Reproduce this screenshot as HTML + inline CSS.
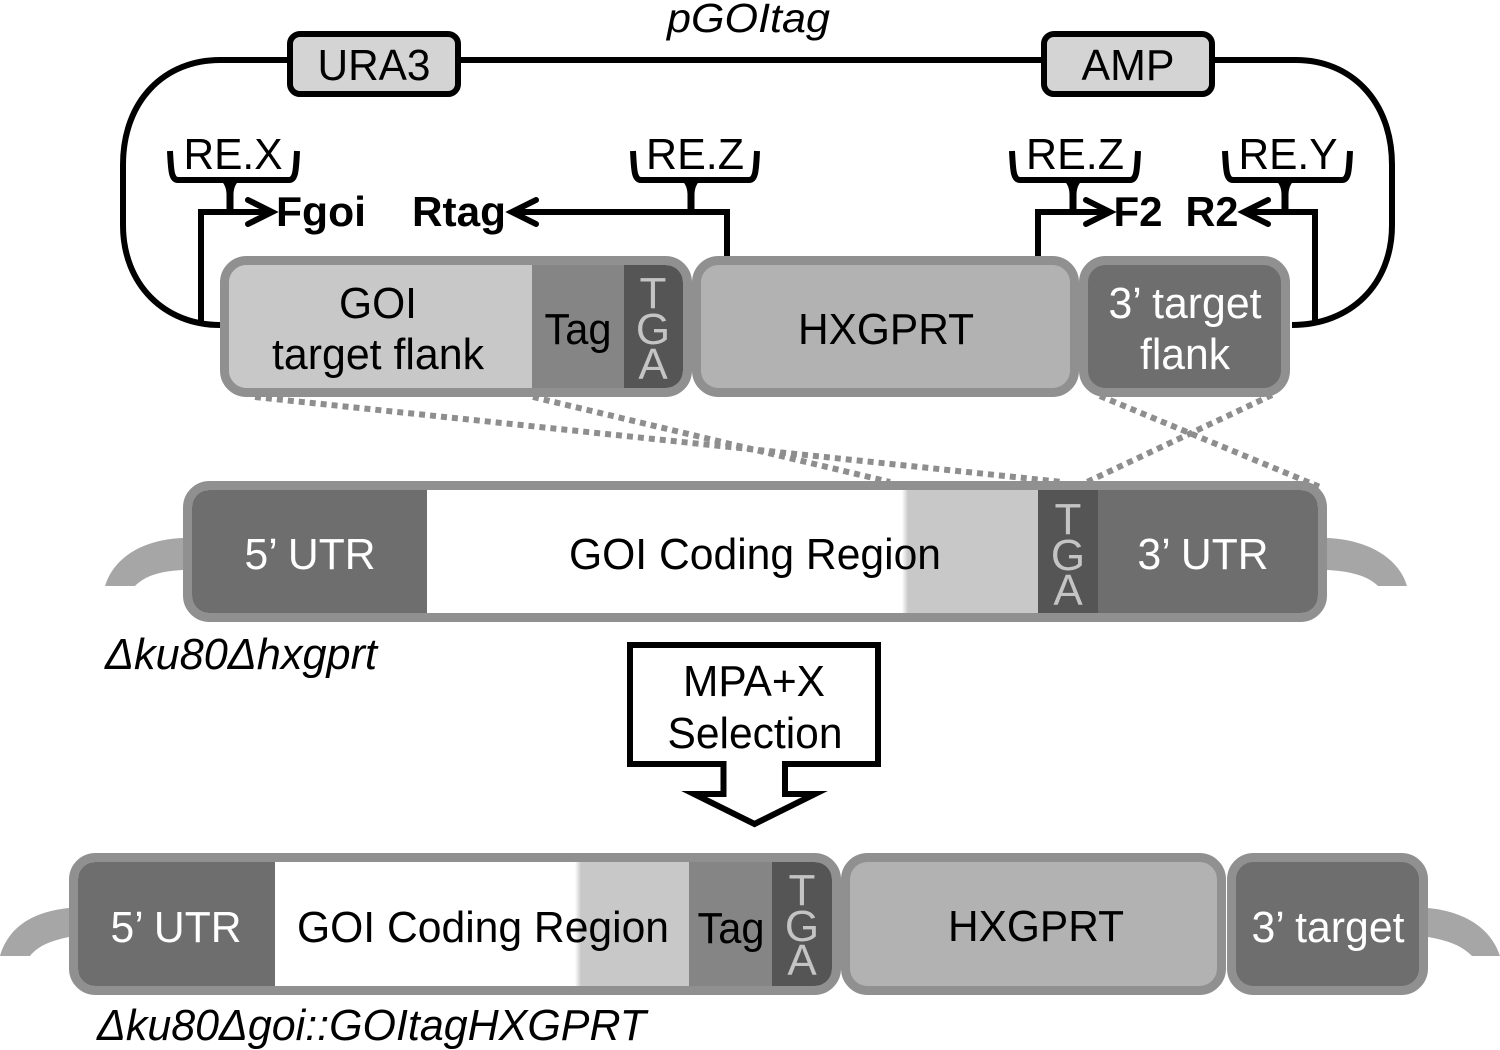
<!DOCTYPE html>
<html><head><meta charset="utf-8"><style>
html,body{margin:0;padding:0;background:#fff;width:1500px;height:1050px;overflow:hidden}
svg{display:block}
text{font-family:"Liberation Sans",sans-serif;font-size:44px;text-anchor:middle}
.b{font-weight:bold;font-size:42px}
.i{font-style:italic;text-anchor:start}
.w{fill:#fff}
.t{fill:#c4c4c4;font-size:44px}
.k{fill:none;stroke:#000;stroke-width:6}
.kb{fill:none;stroke:#000;stroke-width:6;stroke-linejoin:round}
.bd{fill:none;stroke:#909090;stroke-width:9}
.d{fill:none;stroke:#8e8e8e;stroke-width:6;stroke-dasharray:6 5}
</style></head><body>
<svg width="1500" height="1050" viewBox="0 0 1500 1050" xmlns="http://www.w3.org/2000/svg">
<defs>
<clipPath id="c1"><rect x="229" y="265" width="454" height="123" rx="17"/></clipPath>
<clipPath id="c2"><rect x="192" y="490" width="1126" height="123" rx="17"/></clipPath>
<clipPath id="c3"><rect x="78" y="862" width="754" height="124" rx="17"/></clipPath>
<linearGradient id="g1"><stop offset="0" stop-color="#fff"/><stop offset="1" stop-color="#c8c8c8"/></linearGradient>
</defs>

<!-- plasmid backbone -->
<path class="k" d="M220 60H1296C1350 60 1392 100 1392 165V225C1392 285 1350 325 1292 325"/>
<path class="k" d="M220 60C165 60 123 100 123 165V225C123 285 165 325 220 325"/>
<rect x="290" y="34" width="168" height="60" rx="10" fill="#d4d4d4" stroke="#000" stroke-width="6"/>
<rect x="1044" y="34" width="168" height="60" rx="10" fill="#d4d4d4" stroke="#000" stroke-width="6"/>
<text x="374" y="80" textLength="113" lengthAdjust="spacingAndGlyphs">URA3</text>
<text x="1128" y="80" textLength="93" lengthAdjust="spacingAndGlyphs">AMP</text>
<text class="i" x="667" y="32" style="font-size:41px" textLength="163" lengthAdjust="spacingAndGlyphs">pGOItag</text>

<!-- RE labels + brackets -->
<text x="233" y="169" textLength="99" lengthAdjust="spacingAndGlyphs">RE.X</text>
<text x="695" y="169" textLength="98" lengthAdjust="spacingAndGlyphs">RE.Z</text>
<text x="1075" y="169" textLength="98" lengthAdjust="spacingAndGlyphs">RE.Z</text>
<text x="1288" y="169" textLength="99" lengthAdjust="spacingAndGlyphs">RE.Y</text>
<path class="kb" d="M170 151C171 169 171 180 178 180H289C296 180 296 169 297 151"/>
<path d="M220 180Q227 185 226.500 197V212H233.500V197Q233 185 240 180Z"/>
<path class="kb" d="M633 151C634 169 634 180 641 180H749C756 180 756 169 757 151"/>
<path d="M681 180Q688 185 687.500 197V212H694.500V197Q694 185 701 180Z"/>
<path class="kb" d="M1012 151C1013 169 1013 180 1020 180H1130C1137 180 1137 169 1138 151"/>
<path d="M1063 180Q1070 185 1069.500 197V212H1076.500V197Q1076 185 1083 180Z"/>
<path class="kb" d="M1225 151C1226 169 1226 180 1233 180H1342C1349 180 1349 169 1350 151"/>
<path d="M1275 180Q1282 185 1281.500 197V212H1288.500V197Q1288 185 1295 180Z"/>

<!-- primers -->
<path class="k" d="M201 325V212H268"/>
<path d="M248 200L272 212L248 224" fill="none" stroke="#000" stroke-width="6" stroke-linecap="round"/>
<path class="k" d="M727 262V212H516"/>
<path d="M536 200L512 212L536 224" fill="none" stroke="#000" stroke-width="6" stroke-linecap="round"/>
<path class="k" d="M1038 262V212H1106"/>
<path d="M1086 200L1110 212L1086 224" fill="none" stroke="#000" stroke-width="6" stroke-linecap="round"/>
<path class="k" d="M1315 323V212H1248"/>
<path d="M1268 200L1244 212L1268 224" fill="none" stroke="#000" stroke-width="6" stroke-linecap="round"/>
<text class="b" x="321" y="226" textLength="90" lengthAdjust="spacingAndGlyphs">Fgoi</text>
<text class="b" x="459" y="226" textLength="94" lengthAdjust="spacingAndGlyphs">Rtag</text>
<text class="b" x="1138" y="226" textLength="49" lengthAdjust="spacingAndGlyphs">F2</text>
<text class="b" x="1212" y="226" textLength="53" lengthAdjust="spacingAndGlyphs">R2</text>

<!-- dotted -->
<path class="d" d="M255 397L1062 482"/>
<path class="d" d="M533 397L890 482"/>
<path class="d" d="M1100 396L1320 487"/>
<path class="d" d="M1272 395L1087 482"/>

<!-- top construct -->
<g clip-path="url(#c1)">
<rect x="229" y="265" width="303" height="123" fill="#c8c8c8"/>
<rect x="532" y="265" width="92" height="123" fill="#858585"/>
<rect x="624" y="265" width="59" height="123" fill="#555"/>
</g>
<rect class="bd" x="224.500" y="260.500" width="463" height="132" rx="22"/>
<rect x="696.500" y="260.500" width="378" height="132" rx="22" fill="#b2b2b2" stroke="#909090" stroke-width="9"/>
<rect x="1083.500" y="260.500" width="202" height="132" rx="22" fill="#6e6e6e" stroke="#909090" stroke-width="9"/>
<text x="378" y="318" textLength="78" lengthAdjust="spacingAndGlyphs">GOI</text>
<text x="378" y="369" textLength="212" lengthAdjust="spacingAndGlyphs">target flank</text>
<text x="578" y="344" textLength="67" lengthAdjust="spacingAndGlyphs">Tag</text>
<text class="t" x="653" y="308">T</text><text class="t" x="653" y="344">G</text><text class="t" x="653" y="379">A</text>
<text x="886" y="344" textLength="176" lengthAdjust="spacingAndGlyphs">HXGPRT</text>
<text class="w" x="1185" y="318" textLength="153" lengthAdjust="spacingAndGlyphs">3’ target</text>
<text class="w" x="1185" y="369" textLength="90" lengthAdjust="spacingAndGlyphs">flank</text>

<!-- middle construct -->
<path d="M183 538C150 539 115 553 105 586H135C145 576 160 571 183 570Z" fill="#a6a6a6"/>
<path d="M1327 538C1360 539 1397 553 1407 586H1378C1368 576 1350 571 1327 570Z" fill="#a6a6a6"/>
<g clip-path="url(#c2)">
<rect x="192" y="490" width="235" height="123" fill="#6e6e6e"/>
<rect x="427" y="490" width="475" height="123" fill="#fff"/>
<rect x="902" y="490" width="6" height="123" fill="url(#g1)"/>
<rect x="908" y="490" width="130" height="123" fill="#c8c8c8"/>
<rect x="1038" y="490" width="60" height="123" fill="#555"/>
<rect x="1098" y="490" width="220" height="123" fill="#6e6e6e"/>
</g>
<rect class="bd" x="187.500" y="485.500" width="1135" height="132" rx="22"/>
<text class="w" x="310" y="569" textLength="131" lengthAdjust="spacingAndGlyphs">5’ UTR</text>
<text x="755" y="569" textLength="372" lengthAdjust="spacingAndGlyphs">GOI Coding Region</text>
<text class="t" x="1068" y="534">T</text><text class="t" x="1068" y="570">G</text><text class="t" x="1068" y="605">A</text>
<text class="w" x="1203" y="569" textLength="131" lengthAdjust="spacingAndGlyphs">3’ UTR</text>
<text class="i" x="105" y="669" textLength="272" lengthAdjust="spacingAndGlyphs">Δku80Δhxgprt</text>

<!-- selection arrow -->
<path d="M630 645H878V764H785V794H815L754.500 824L694 794H723.500V764H630Z" fill="#fff" stroke="#000" stroke-width="6" stroke-linejoin="miter" stroke-miterlimit="12"/>
<text x="754" y="696" textLength="142" lengthAdjust="spacingAndGlyphs">MPA+X</text>
<text x="755" y="748" textLength="175" lengthAdjust="spacingAndGlyphs">Selection</text>

<!-- bottom construct -->
<path d="M69 908C40 911 10 922 0 956H30C38 946 50 941 69 937Z" fill="#a6a6a6"/>
<path d="M1428 908C1460 911 1490 925 1500 956H1472C1462 946 1450 941 1428 937Z" fill="#a6a6a6"/>
<g clip-path="url(#c3)">
<rect x="78" y="862" width="197" height="124" fill="#6e6e6e"/>
<rect x="275" y="862" width="300" height="124" fill="#fff"/>
<rect x="575" y="862" width="6" height="124" fill="url(#g1)"/>
<rect x="581" y="862" width="108" height="124" fill="#c8c8c8"/>
<rect x="689" y="862" width="83" height="124" fill="#858585"/>
<rect x="772" y="862" width="60" height="124" fill="#555"/>
</g>
<rect class="bd" x="73.500" y="857.500" width="763" height="133" rx="22"/>
<rect x="845.500" y="857.500" width="376" height="133" rx="22" fill="#b2b2b2" stroke="#909090" stroke-width="9"/>
<rect x="1231.500" y="857.500" width="192" height="133" rx="22" fill="#6e6e6e" stroke="#909090" stroke-width="9"/>
<text class="w" x="176" y="942" textLength="131" lengthAdjust="spacingAndGlyphs">5’ UTR</text>
<text x="483" y="942" textLength="372" lengthAdjust="spacingAndGlyphs">GOI Coding Region</text>
<text x="731" y="943" textLength="67" lengthAdjust="spacingAndGlyphs">Tag</text>
<text class="t" x="802" y="905">T</text><text class="t" x="802" y="941">G</text><text class="t" x="802" y="975">A</text>
<text x="1036" y="941" textLength="176" lengthAdjust="spacingAndGlyphs">HXGPRT</text>
<text class="w" x="1328" y="942" textLength="153" lengthAdjust="spacingAndGlyphs">3’ target</text>
<text class="i" x="97" y="1040" textLength="549" lengthAdjust="spacingAndGlyphs">Δku80Δgoi::GOItagHXGPRT</text>
</svg>
</body></html>
